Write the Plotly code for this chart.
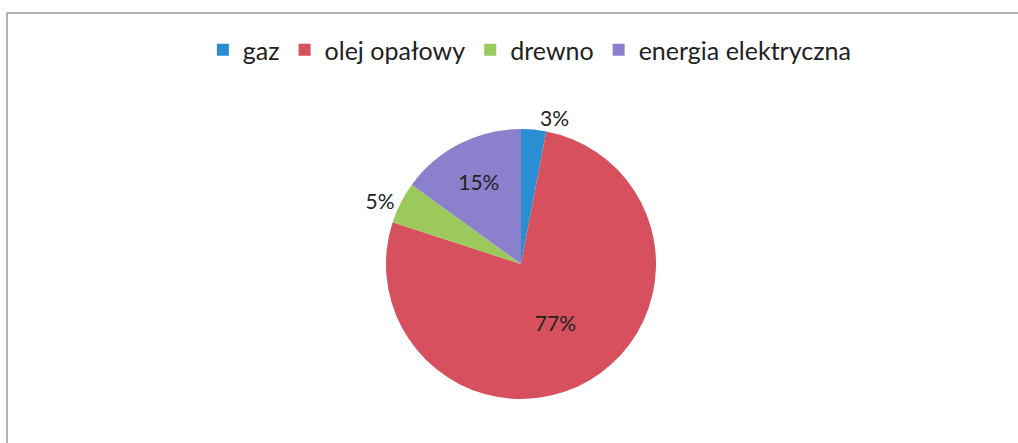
import plotly.graph_objects as go

labels = ["gaz", "olej opałowy", "drewno", "energia elektryczna"]
values = [3, 77, 5, 15]
colors = ["#2a8fd2", "#d6505d", "#9cc95c", "#8a80cc"]
text_pos = ["outside", "inside", "outside", "inside"]

W, H = 1018, 443
cx, cy, r = 521, 264, 135

fig = go.Figure(go.Pie(
    labels=labels,
    values=values,
    sort=False,
    direction="clockwise",
    rotation=0,
    marker=dict(colors=colors, line=dict(width=0)),
    textinfo="percent",
    texttemplate="%{percent:.0%}",
    textposition=text_pos,
    insidetextorientation="horizontal",
    textfont=dict(family="Lato, sans-serif", size=21, color="#222222"),
    domain=dict(x=[(cx - r) / W, (cx + r) / W], y=[(H - cy - r) / H, (H - cy + r) / H]),
    hoverinfo="label+percent",
))

fig.update_layout(
    width=W,
    height=H,
    margin=dict(l=0, r=0, t=0, b=0),
    paper_bgcolor="white",
    plot_bgcolor="white",
    font=dict(family="Lato, sans-serif", color="#222222"),
    showlegend=True,
    legend=dict(
        orientation="h",
        x=0.52, xanchor="center",
        y=1 - 50 / H, yanchor="middle",
        font=dict(size=25, color="#222222"),
        itemwidth=30,
        traceorder="normal",
    ),
    shapes=[
        # frame: only the top and left edges fall inside the picture
        dict(type="line", xref="paper", yref="paper",
             x0=7 / W, x1=1, y0=1 - 13 / H, y1=1 - 13 / H,
             line=dict(color="#9a9a9a", width=1.5)),
        dict(type="line", xref="paper", yref="paper",
             x0=7 / W, x1=7 / W, y0=0, y1=1 - 13 / H,
             line=dict(color="#9a9a9a", width=1.5)),
    ],
)

# drop the default page margin so the figure sits at the window origin
fig.write_html(
    "out.html",
    config={"displayModeBar": False},
    post_script="document.body.style.margin='0';",
)
